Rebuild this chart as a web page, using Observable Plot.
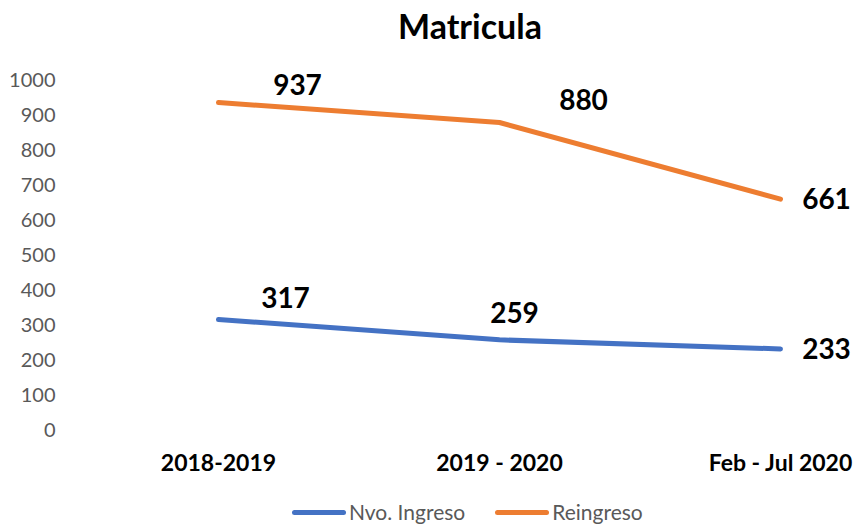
<!DOCTYPE html>
<html>
<head>
<meta charset="utf-8">
<script src="https://cdn.jsdelivr.net/npm/d3@7"></script>
<script src="https://cdn.jsdelivr.net/npm/@observablehq/plot@0.6"></script>
<style>
  html, body { margin: 0; padding: 0; background: #fff; }
  #wrap { position: relative; width: 856px; height: 527px; overflow: hidden; font-family: Lato, "Open Sans", sans-serif; }
  #title { position: absolute; left: 0; width: 940px; top: 5px; text-align: center; font-weight: 700; font-size: 34px; color: #000; }
  #legend { position: absolute; top: 500px; left: 292px; display: flex; align-items: center; font-size: 21px; line-height: 24px; color: #595959; white-space: nowrap; }
  .sw { display: inline-block; width: 54px; height: 5px; border-radius: 3px; margin-right: 3px; }
  svg { position: absolute; left: 0; top: 0; }
</style>
</head>
<body>
<div id="wrap">
  <div id="title">Matricula</div>
  <div id="chart"></div>
  <div id="legend">
    <span class="sw" style="background:#4472C4"></span><span>Nvo. Ingreso</span>
    <span class="sw" style="background:#ED7D31; margin-left:30px"></span><span>Reingreso</span>
  </div>
</div>
<script>
const categories = ["2018-2019", "2019 - 2020", "Feb - Jul 2020"];
const seriesNames = ["Nvo. Ingreso", "Reingreso"];
const nvoIngreso = [317, 259, 233];
const reingreso = [937, 880, 661];
const yTicks = [0, 100, 200, 300, 400, 500, 600, 700, 800, 900, 1000];

const colors = {"Nvo. Ingreso": "#4472C4", "Reingreso": "#ED7D31"};
const data = [];
categories.forEach((c, i) => {
  data.push({cat: c, i, series: seriesNames[0], value: nvoIngreso[i]});
  data.push({cat: c, i, series: seriesNames[1], value: reingreso[i]});
});

// label placement (style), keyed by series and category index
const labelOffsets = {
  "Reingreso": [[79, -17], [84, -21], [46, 1]],
  "Nvo. Ingreso": [[67, -21], [15, -26], [46, 1]]
};
const labelMarks = [];
for (const s of seriesNames) {
  categories.forEach((c, i) => {
    const [dx, dy] = labelOffsets[s][i];
    labelMarks.push(Plot.text(data.filter(d => d.series === s && d.i === i), {
      x: "cat", y: "value", text: d => String(d.value),
      dx, dy, textAnchor: "middle", lineAnchor: "middle",
      fontSize: 28, fontWeight: 700, fill: "#000"
    }));
  });
}

const chart = Plot.plot({
  width: 856,
  height: 527,
  marginTop: 80,
  marginBottom: 97,
  marginLeft: 64,
  marginRight: 0,
  style: {fontFamily: "Lato, 'Open Sans', sans-serif", background: "transparent", overflow: "visible"},
  x: {type: "point", domain: categories, range: [218, 780], padding: 0},
  y: {domain: [0, 1000]},
  marks: [
    Plot.axisY({ticks: yTicks, tickSize: 0, tickPadding: 9, fontSize: 20, fill: "#595959", label: null, tickFormat: d => String(d)}),
    Plot.axisX({tickSize: 0, tickPadding: 24, fontSize: 23, fontWeight: 700, fill: "#000", label: null}),
    Plot.line(data, {x: "cat", y: "value", z: "series", stroke: d => colors[d.series], strokeWidth: 5, strokeLinecap: "round", strokeLinejoin: "round"}),
    ...labelMarks
  ]
});
document.getElementById("chart").appendChild(chart);
</script>
</body>
</html>
